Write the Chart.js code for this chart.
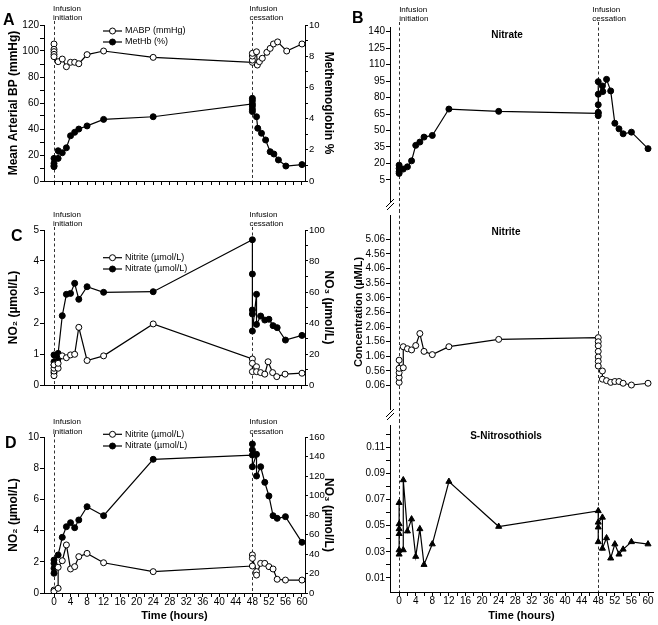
<!DOCTYPE html>
<html>
<head>
<meta charset="utf-8">
<title>Nitrite infusion time course</title>
<script src="https://cdn.jsdelivr.net/npm/chart.js@4.4.1/dist/chart.umd.min.js"></script>
<style>
  html, body { margin: 0; background: #fff; }
  #fig { position: relative; width: 658px; height: 625px; overflow: hidden; }
  #fig canvas { position: absolute; }
</style>
</head>
<body>
<div id="fig">
  <canvas id="panelA" width="336" height="200" style="left:0;top:0"></canvas>
  <canvas id="panelC" width="336" height="200" style="left:0;top:200px"></canvas>
  <canvas id="panelD" width="336" height="225" style="left:0;top:400px"></canvas>
  <canvas id="panelB1" width="328" height="210" style="left:330px;top:0"></canvas>
  <canvas id="panelB2" width="328" height="210" style="left:330px;top:210px"></canvas>
  <canvas id="panelB3" width="328" height="205" style="left:330px;top:420px"></canvas>
</div>
<script>
const FONT = '"Liberation Sans", Arial, Helvetica, sans-serif';
Chart.defaults.font.family = FONT;
Chart.defaults.font.size = 10;
Chart.defaults.color = '#000';

// all series are [hours since infusion start, value]
const INFUSION_MARKS = [0, 48];
const INFUSION_NOTES = [['Infusion', 'initiation'], ['Infusion', 'cessation']];

const every = (from, to, step) =>
  Array.from({ length: Math.round((to - from) / step) + 1 }, (_, i) => +(from + i * step).toFixed(4));

const HOUR_LABELS = [0, 4, 8, 12, 16, 20, 24, 28, 32, 36, 40, 44, 48, 52, 56, 60];
const HOUR_TICKS = every(0, 60, 2);

// panel A
const MABP_LABELS = [0, 20, 40, 60, 80, 100, 120];
const METHB_LABELS = [0, 2, 4, 6, 8, 10];
const MABP = [
  [0, 105.4], [0, 101.3], [0, 99.5], [0, 97.4], [0, 95.6], [1, 91.8], [2, 93.8], [3, 87.9], [4, 91.3],
  [5, 91.3], [6, 90.2], [8, 97.2], [12, 100], [24, 95.1], [48, 91.3], [48, 93], [48, 96.1], [48, 98.2],
  [49, 99.4], [49.2, 89.2], [49.7, 91.8], [50.4, 94.4], [51.5, 99], [52.3, 102], [53.1, 105.4],
  [54.1, 107], [56.3, 100], [60, 105.4]
];
const METHB = [
  [0, 0.92], [0, 0.98], [0, 1.13], [0, 1.45], [1, 1.45], [1, 1.94], [2, 1.81], [3, 2.13], [4, 2.9],
  [5, 3.12], [6, 3.33], [8, 3.53], [12, 3.95], [24, 4.12], [48, 4.94], [48, 5.3], [48, 5.15], [48, 4.8],
  [48, 4.6], [48, 4.45], [49, 4.12], [49.3, 3.38], [50.2, 3.06], [51.2, 2.63], [52.3, 1.88], [53.2, 1.73],
  [54.3, 1.35], [56.1, 0.96], [60, 1.05]
];

// panel C
const C_NO2_LABELS = [0, 1, 2, 3, 4, 5];
const C_NO3_LABELS = [0, 20, 40, 60, 80, 100];
const C_NITRITE = [
  [0, 0.3], [0, 0.45], [0, 0.54], [0, 0.65], [1, 0.54], [1, 0.7], [2, 0.94], [3, 0.88], [4, 0.97],
  [5, 0.99], [6, 1.86], [8, 0.79], [12, 0.94], [24, 1.97], [48, 0.84], [48, 0.7], [48, 0.43], [49, 0.59],
  [49, 0.43], [50, 0.4], [51, 0.35], [51.8, 0.75], [52.9, 0.4], [53.9, 0.27], [55.9, 0.35], [60, 0.38]
];
const C_NITRATE = [
  [0, 7.9], [0, 12.9], [0, 15], [0, 19.4], [1, 17], [1, 20.4], [2, 44.7], [3, 58.5], [4, 59.1],
  [5, 65.6], [6, 55.3], [8, 63.4], [12, 59.8], [24, 60.2], [48, 93.7], [48, 71.6], [48, 48.4], [48, 45.8],
  [48, 34.8], [49, 58.5], [49, 39.1], [50, 44.5], [51, 41.9], [52, 42.4], [53, 38.3], [54, 37], [56, 29],
  [60, 32]
];

// panel D
const D_NO2_LABELS = [0, 2, 4, 6, 8, 10];
const D_NO3_LABELS = [0, 20, 40, 60, 80, 100, 120, 140, 160];
const D_NITRITE = [
  [0, 0.19], [0, 0.1], [1, 0.3], [1, 1.65], [2, 2.07], [3, 3.08], [4, 1.54], [5, 1.69], [6, 2.33],
  [8, 2.54], [12, 1.94], [24, 1.37], [48, 1.73], [48, 2.44], [48, 2.22], [49, 1.37], [49, 1.15], [50, 1.9],
  [51, 1.9], [52, 1.69], [53, 1.54], [54, 0.88], [56, 0.83], [60, 0.83]
];
const D_NITRATE = [
  [0, 20.2], [0, 25.3], [0, 30.4], [0, 33.8], [1, 39], [2, 57.1], [3, 68], [4, 72.1], [5, 67], [6, 74.9],
  [8, 88.5], [12, 79.3], [24, 137.1], [48, 141.5], [48, 152.8], [48, 146.7], [48, 129.5], [49, 142.2],
  [49, 120], [50, 129.5], [51, 113.5], [52, 99.5], [53, 79.3], [54, 76.6], [56, 78.3], [60, 52]
];

// panel B (concentrations, µM/L)
const B_NITRATE_LABELS = [5, 20, 35, 50, 65, 80, 95, 110, 125, 140];
const B_NITRITE_LABELS = [0.06, 0.56, 1.06, 1.56, 2.06, 2.56, 3.06, 3.56, 4.06, 4.56, 5.06];
const B_RSNO_LABELS = [0.01, 0.03, 0.05, 0.07, 0.09, 0.11];
const B_RSNO_TICKS = every(0.01, 0.12, 0.01);
const B_NITRATE = [
  [0, 11], [0, 12.5], [0, 15.5], [0, 18.5], [1, 14.9], [2, 17], [3, 22.4], [4, 36.5], [5, 39.5], [6, 44],
  [8, 45.5], [12, 69.5], [24, 67.4], [48, 65.6], [48, 63.5], [48, 66.5], [48, 73.4], [48, 83], [48, 94.4],
  [49, 90.5], [49.1, 85.4], [50, 96.5], [51, 86], [52, 56.6], [53, 51.5], [54, 47], [56, 48.5], [60, 33.5]
];
const B_NITRITE = [
  [0, 0.17], [0, 0.34], [0, 0.5], [0, 0.93], [0, 0.65], [1, 0.67], [1, 1.39], [2, 1.32], [3, 1.28],
  [4, 1.43], [5, 1.84], [6, 1.23], [8, 1.12], [12, 1.39], [24, 1.64], [48, 1.7], [48, 1.56], [48, 1.42],
  [48, 1.23], [48, 1.04], [48, 0.89], [48, 0.73], [49, 0.56], [49, 0.28], [50, 0.23], [51, 0.17],
  [52, 0.2], [53, 0.2], [54, 0.14], [56, 0.08], [60, 0.14]
];
const B_RSNO = [
  [0, 0.0675], [0, 0.0513], [0, 0.0475], [0, 0.0438], [0, 0.0314], [0, 0.0281], [1, 0.0314], [1, 0.0849],
  [2, 0.0458], [3, 0.055], [4, 0.0264], [5, 0.0475], [6, 0.0202], [8, 0.0359], [12, 0.0837], [24, 0.0493],
  [48, 0.0613], [48, 0.0376], [48, 0.0488], [48, 0.0525], [49, 0.0563], [49, 0.0326], [50, 0.0406],
  [51, 0.0251], [52, 0.0359], [53, 0.0281], [54, 0.0319], [56, 0.0376], [60, 0.0359]
];

// dashed infusion lines, notes, legends, panel letters and axis breaks
const decor = {
  id: 'decor',
  beforeDatasetsDraw(chart, args, o) {
    const { ctx, chartArea, scales } = chart;
    ctx.save();
    ctx.strokeStyle = '#333';
    ctx.lineWidth = 1;
    ctx.setLineDash([3, 2.5]);
    INFUSION_MARKS.forEach((h) => {
      const px = Math.round(scales.x.getPixelForValue(h)) + 0.5;
      ctx.beginPath();
      ctx.moveTo(px, o.dashTop);
      ctx.lineTo(px, o.dashBottom ?? chartArea.bottom);
      ctx.stroke();
    });
    ctx.restore();
  },
  afterDraw(chart, args, o) {
    const { ctx, scales, chartArea } = chart;
    ctx.save();
    ctx.fillStyle = '#000';
    ctx.textBaseline = 'middle';
    if (o.notes) {
      ctx.font = `8px ${FONT}`;
      INFUSION_MARKS.forEach((h, i) => {
        const px = scales.x.getPixelForValue(h) + o.notes.dx[i];
        INFUSION_NOTES[i].forEach((line, j) => ctx.fillText(line, px, o.notes.y[j]));
      });
    }
    if (o.legend) {
      ctx.font = `9px ${FONT}`;
      chart.data.datasets.forEach((ds, i) => {
        const x = o.legend.x;
        const y = o.legend.y[i];
        ctx.strokeStyle = '#000';
        ctx.lineWidth = 1.2;
        ctx.beginPath();
        ctx.moveTo(x, y);
        ctx.lineTo(x + 19, y);
        ctx.stroke();
        ctx.lineWidth = 1;
        ctx.fillStyle = ds.pointBackgroundColor;
        Chart.helpers.drawPoint(ctx, { pointStyle: ds.pointStyle, radius: ds.pointRadius, borderWidth: 1, rotation: 0 }, x + 9.5, y);
        ctx.fillStyle = '#000';
        ctx.fillText(ds.label, x + 22, y);
      });
    }
    if (o.heading) {
      ctx.font = `bold 10px ${FONT}`;
      ctx.textAlign = 'center';
      ctx.fillText(o.heading.text, o.heading.x, o.heading.y);
      ctx.textAlign = 'left';
    }
    if (o.letter) {
      ctx.font = `bold 16px ${FONT}`;
      ctx.textBaseline = 'alphabetic';
      ctx.fillText(o.letter.text, o.letter.x, o.letter.y);
    }
    if (o.breakY) {
      const ax = chartArea.left;
      ctx.strokeStyle = '#000';
      ctx.lineWidth = 1;
      [0, 4].forEach((d) => {
        ctx.beginPath();
        ctx.moveTo(ax - 4, o.breakY + d + 3);
        ctx.lineTo(ax + 4, o.breakY + d - 5);
        ctx.stroke();
      });
    }
    ctx.restore();
  },
};

const openCircle = { pointStyle: 'circle', pointRadius: 3, pointBackgroundColor: '#fff' };
const dot = { pointStyle: 'circle', pointRadius: 3, pointBackgroundColor: '#000' };
const tri = { pointStyle: 'triangle', pointRadius: 3.5, pointBackgroundColor: '#000' };

function series(label, points, marker, yAxisID = 'y') {
  return {
    label,
    yAxisID,
    data: points.map(([x, y]) => ({ x, y })),
    borderColor: '#000',
    borderWidth: 1.2,
    pointBorderColor: '#000',
    pointBorderWidth: 1,
    tension: 0,
    ...marker,
  };
}

// linear axis with fixed box size and explicit tick list
function axis({ position, min, max, ticks, labels = [], digits = 0, size, title, titlePad = 0, titleSize = 12, display = true }) {
  return {
    type: 'linear',
    position,
    min,
    max,
    display,
    afterBuildTicks: (s) => { s.ticks = ticks.map((v) => ({ value: v })); },
    afterFit: (s) => {
      if (size !== undefined) {
        if (s.isHorizontal()) s.height = size; else s.width = size;
      }
      s.paddingTop = s.paddingBottom = s.paddingLeft = s.paddingRight = 0;
    },
    border: { display: true, color: '#000', width: 1 },
    grid: { drawOnChartArea: false, color: '#000', tickLength: position === 'right' ? 3 : 4, lineWidth: 1 },
    ticks: {
      autoSkip: false,
      maxRotation: 0,
      padding: position === 'bottom' ? -1 : 1,
      font: { size: position === 'right' ? 9.5 : 10 },
      callback: (v) => (labels.some((l) => Math.abs(l - v) < 1e-6) ? v.toFixed(digits) : ''),
    },
    title: title
      ? { display: true, text: title, font: { size: titleSize, weight: 'bold' }, padding: { top: titlePad, bottom: titlePad } }
      : { display: false },
  };
}

function makeChart(id, datasets, scales, padding, decorOpts) {
  return new Chart(document.getElementById(id), {
    type: 'line',
    data: { datasets },
    options: {
      responsive: false,
      animation: false,
      layout: { padding },
      plugins: { legend: { display: false }, tooltip: { enabled: false }, decor: decorOpts },
      scales,
    },
    plugins: [decor],
  });
}

const LEFT_X = { min: -2.42, max: 60.73 };
const RIGHT_X = { min: -2.2, max: 61.2 };

makeChart('panelA',
  [series('MABP (mmHg)', MABP, openCircle), series('MetHb (%)', METHB, dot, 'y1')],
  {
    x: axis({ position: 'bottom', ...LEFT_X, ticks: HOUR_TICKS, size: 19 }),
    y: axis({ position: 'left', min: 0, max: 120, ticks: every(0, 120, 10), labels: MABP_LABELS, size: 44, title: 'Mean Arterial BP (mmHg)', titlePad: 6 }),
    y1: axis({ position: 'right', min: 0, max: 10, ticks: every(0, 10, 1), labels: METHB_LABELS, size: 31, title: 'Methemoglobin %', titlePad: 0 }),
  },
  { top: 25, left: 0, right: 0, bottom: 0 },
  { dashTop: 21, notes: { y: [9, 18], dx: [-1, -3] }, legend: { x: 103, y: [31, 42] }, letter: { text: 'A', x: 3, y: 25 } });

makeChart('panelC',
  [series('Nitrite (µmol/L)', C_NITRITE, openCircle), series('Nitrate (µmol/L)', C_NITRATE, dot, 'y1')],
  {
    x: axis({ position: 'bottom', ...LEFT_X, ticks: HOUR_TICKS, size: 15 }),
    y: axis({ position: 'left', min: 0, max: 5, ticks: C_NO2_LABELS, labels: C_NO2_LABELS, size: 44, title: 'NO₂ (µmol/L)', titlePad: 6 }),
    y1: axis({ position: 'right', min: 0, max: 100, ticks: every(0, 100, 10), labels: C_NO3_LABELS, size: 31, title: 'NO₃ (µmol/L)', titlePad: 0 }),
  },
  { top: 30, left: 0, right: 0, bottom: 0 },
  { dashTop: 27, notes: { y: [15, 24], dx: [-1, -3] }, legend: { x: 103, y: [57.7, 69] }, letter: { text: 'C', x: 11, y: 41 } });

makeChart('panelD',
  [series('Nitrite (µmol/L)', D_NITRITE, openCircle), series('Nitrate (µmol/L)', D_NITRATE, dot, 'y1')],
  {
    x: axis({ position: 'bottom', ...LEFT_X, ticks: HOUR_TICKS, labels: HOUR_LABELS, size: 32, title: 'Time (hours)', titlePad: 2, titleSize: 11 }),
    y: axis({ position: 'left', min: 0, max: 10, ticks: D_NO2_LABELS, labels: D_NO2_LABELS, size: 44, title: 'NO₂ (µmol/L)', titlePad: 6 }),
    y1: axis({ position: 'right', min: 0, max: 160, ticks: D_NO3_LABELS, labels: D_NO3_LABELS, size: 31, title: 'NO₃ (µmol/L)', titlePad: 0 }),
  },
  { top: 37, left: 0, right: 0, bottom: 0 },
  { dashTop: 34, notes: { y: [22, 31.5], dx: [-1, -3] }, legend: { x: 103, y: [34.3, 46] }, letter: { text: 'D', x: 5, y: 48 } });

makeChart('panelB1',
  [series('Nitrate', B_NITRATE, dot)],
  {
    x: axis({ position: 'bottom', ...RIGHT_X, ticks: HOUR_TICKS, display: false }),
    y: axis({ position: 'left', min: -14.1, max: 144.1, ticks: B_NITRATE_LABELS, labels: B_NITRATE_LABELS, size: 60 }),
  },
  { top: 27, left: 0, right: 2, bottom: 9 },
  { dashTop: 22, dashBottom: 210, notes: { y: [10, 18.5], dx: [0, -6] }, heading: { text: 'Nitrate', x: 177, y: 35 }, letter: { text: 'B', x: 22, y: 23 }, breakY: 204 });

makeChart('panelB2',
  [series('Nitrite', B_NITRITE, openCircle)],
  {
    x: axis({ position: 'bottom', ...RIGHT_X, ticks: HOUR_TICKS, display: false }),
    y: axis({ position: 'left', min: -0.74, max: 5.893, ticks: B_NITRITE_LABELS, labels: B_NITRITE_LABELS, digits: 2, size: 60, title: 'Concentration (µM/L)', titlePad: 22, titleSize: 11 }),
  },
  { top: 0, left: 0, right: 2, bottom: 11 },
  { dashTop: 0, dashBottom: 210, heading: { text: 'Nitrite', x: 176, y: 22 }, breakY: 204 });

makeChart('panelB3',
  [series('S-Nitrosothiols', B_RSNO, tri)],
  {
    x: axis({ position: 'bottom', ...RIGHT_X, ticks: HOUR_TICKS, labels: HOUR_LABELS, size: 33, title: 'Time (hours)', titlePad: 2, titleSize: 11 }),
    y: axis({ position: 'left', min: -0.0007, max: 0.1269, ticks: B_RSNO_TICKS, labels: B_RSNO_LABELS, digits: 2, size: 60 }),
  },
  { top: 0, left: 0, right: 2, bottom: 0 },
  { dashTop: 0, heading: { text: 'S-Nitrosothiols', x: 176, y: 16 } });
</script>
</body>
</html>
